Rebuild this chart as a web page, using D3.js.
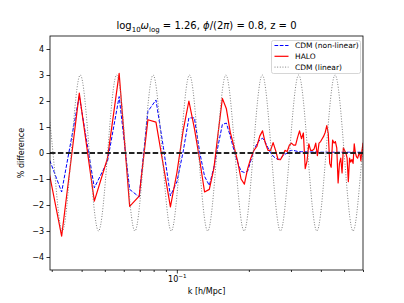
<!DOCTYPE html>
<html>
<head>
<meta charset="utf-8">
<script src="https://cdn.jsdelivr.net/npm/d3@7"></script>
<style>
  body { margin: 0; background: #fff; }
  svg { font-family: "DejaVu Sans", sans-serif; }
</style>
</head>
<body>
<div id="chart"></div>
<script>
// k values [h/Mpc] of the simulated spectra
const kGrid = [
  0.0269, 0.0330, 0.0391, 0.0452, 0.0513, 0.0574, 0.0635, 0.0696, 0.0757, 0.0818,
  0.0879, 0.0940, 0.1001, 0.1062, 0.1123, 0.1184, 0.1245, 0.1306, 0.1367, 0.1428,
  0.1489, 0.1550, 0.1611, 0.1672, 0.1733, 0.1794, 0.1855, 0.1916, 0.1977, 0.2038,
  0.2099, 0.2160, 0.2221, 0.2282, 0.2343, 0.2404, 0.2465, 0.2526, 0.2587, 0.2648,
  0.2709, 0.2770, 0.2831, 0.2892, 0.2953, 0.3014, 0.3075, 0.3136, 0.3197, 0.3258,
  0.3319, 0.3380, 0.3441, 0.3502, 0.3563, 0.3624, 0.3685, 0.3746, 0.3807, 0.3868,
  0.3929, 0.3990, 0.4051, 0.4112, 0.4173, 0.4234, 0.4295, 0.4356, 0.4417, 0.4478,
  0.4539, 0.4600, 0.4661, 0.4722, 0.4783, 0.4844, 0.4905, 0.4966, 0.5027, 0.5088,
  0.5149, 0.5210, 0.5271, 0.5332, 0.5393, 0.5454, 0.5515, 0.5576, 0.5637, 0.5698,
  0.5759, 0.5820, 0.5881, 0.5942, 0.6003, 0.6064, 0.6125
];

// % difference, CDM non-linear
const cdmNonlinear = [
  0.67, -1.5, 2.2, -1.34, -0.32, 2.17, -1.4, -1.69, 1.6, 2.04,
  0.2, -1.65, -1.1, 0.04, 1.35, 1.35, 0.05, -0.9, -1.25, -0.55,
  0.3, 1.1, 1.15, 0.65, 0.1, -0.35, -0.7, -0.75, -0.7, -0.3,
  0.1, 0.35, 0.5, 0.57, 0.42, 0.2, 0.0, -0.12, -0.2, -0.25,
  -0.22, -0.12, -0.05, 0.0, 0.08, 0.1, 0.1, 0.08, 0.06, 0.05,
  0.05, 0.05, 0.05, 0.04, 0.04, 0.04, 0.04, 0.04, 0.04, 0.04,
  0.03, 0.03, 0.03, 0.03, 0.03, 0.03, 0.03, 0.03, 0.03, 0.03,
  0.03, 0.03, 0.03, 0.03, 0.03, 0.03, 0.03, 0.03, 0.03, 0.03,
  0.03, 0.03, 0.03, 0.03, 0.03, 0.03, 0.03, 0.03, 0.03, 0.03,
  0.03, 0.03, 0.03, 0.03, 0.03, 0.03, 0.03
];

// % difference, HALO
const halo = [
  0.95, -3.2, 2.3, -1.85, -0.2, 3.06, -2.05, -1.66, 1.28, 1.19,
  -0.5, -2.07, -0.75, 0.85, 2.0, 0.95, -0.25, -1.5, -1.4, -0.6,
  0.8, 2.1, 1.7, 0.8, 0.25, -0.3, -1.0, -1.2, -0.6, -0.2,
  0.1, 0.25, 0.65, 0.85, 0.38, 0.1, 0.1, 0.4, 0.1, -0.25,
  -0.26, -0.1, 0.1, 0.06, 0.3, 0.38, 0.3, 0.3, 0.6, 0.85,
  0.55, 0.77, -0.6, -0.3, 0.35, 0.1, 0.1, 0.15, 0.38, -0.1,
  0.38, 0.44, 0.55, 0.65, 0.8, 1.05, 0.75, -0.4, -0.55, 0.5,
  0.38, 0.44, 0.2, -1.15, -0.4, -0.2, -0.77, 0.2, 0.1, 0.0,
  -0.2, -1.1, -0.2, -0.35, -0.25, -0.4, 0.35, 0.0, -0.15, -0.2,
  -0.05, 0.0, -0.3, 0.1, 0.38, -1.1, -0.3
];

// CDM linear: peaks, troughs and zero crossings
const kLinear = [
  0.02782, 0.03037, 0.03315, 0.03618, 0.03949, 0.04310, 0.04705, 0.05136, 0.05606, 0.06119,
  0.06679, 0.07290, 0.07957, 0.08685, 0.09480, 0.10348, 0.11295, 0.12329, 0.13457, 0.14689,
  0.16033, 0.17500, 0.19102, 0.20850, 0.22758, 0.24841, 0.27115, 0.29596, 0.32304, 0.35261,
  0.38488, 0.42010, 0.45855, 0.50051, 0.54632, 0.59632, 0.65089
];
const cdmLinear = [
  3, 0, -3, 0, 3, 0, -3, 0, 3, 0,
  -3, 0, 3, 0, -3, 0, 3, 0, -3, 0,
  3, 0, -3, 0, 3, 0, -3, 0, 3, 0,
  -3, 0, 3, 0, -3, 0, 3
];

const yTicks = [-4, -3, -2, -1, 0, 1, 2, 3, 4];
const xMajorTicks = [0.1];
const xMinorTicks = [0.03, 0.04, 0.05, 0.06, 0.07, 0.08, 0.09, 0.2, 0.3, 0.4, 0.5, 0.6];

const width = 404, height = 303;
const plot = { left: 50, right: 363, top: 36, bottom: 270 };

const svg = d3.select('#chart').append('svg')
  .attr('width', width).attr('height', height);

const x = d3.scaleLog().domain([0.0295, 0.6]).range([plot.left, plot.right]);
const y = d3.scaleLinear().domain([-4.5, 4.5]).range([plot.bottom, plot.top]);

svg.append('clipPath').attr('id', 'clip')
  .append('rect')
  .attr('x', plot.left).attr('y', plot.top)
  .attr('width', plot.right - plot.left).attr('height', plot.bottom - plot.top);

const g = svg.append('g').attr('clip-path', 'url(#clip)');

const line = d3.line().x(d => x(d[0])).y(d => y(d[1]));

g.append('path')
  .datum(kGrid.map((k, i) => [k, cdmNonlinear[i]]))
  .attr('d', line)
  .attr('fill', 'none').attr('stroke', '#0000ff').attr('stroke-width', 1)
  .attr('stroke-dasharray', '3.7,1.6');

g.append('path')
  .datum(kGrid.map((k, i) => [k, halo[i]]))
  .attr('d', line)
  .attr('fill', 'none').attr('stroke', '#ff0000').attr('stroke-width', 1.2)
  .attr('stroke-linejoin', 'round');

g.append('path')
  .datum(kLinear.map((k, i) => [k, cdmLinear[i]]))
  .attr('d', line.curve(d3.curveNatural))
  .attr('fill', 'none').attr('stroke', '#808080').attr('stroke-width', 1)
  .attr('stroke-dasharray', '1,1.65');

// zero line
g.append('line')
  .attr('x1', plot.left).attr('x2', plot.right)
  .attr('y1', y(0)).attr('y2', y(0))
  .attr('stroke', '#222').attr('stroke-width', 1.8)
  .attr('stroke-dasharray', '5.5,2.4');

// axes
svg.append('g')
  .attr('transform', `translate(${plot.left},0)`)
  .call(d3.axisLeft(y).tickValues(yTicks).tickSize(3.5).tickPadding(2.5)
    .tickFormat(d => d < 0 ? '\u2212' + Math.abs(d) : d));

svg.append('g')
  .attr('transform', `translate(0,${plot.bottom})`)
  .call(d3.axisBottom(x).tickValues(xMinorTicks).tickSize(2).tickFormat(''));

const xAxis = svg.append('g')
  .attr('transform', `translate(0,${plot.bottom})`)
  .call(d3.axisBottom(x).tickValues(xMajorTicks).tickSize(3.5).tickPadding(2.5).tickFormat(''));

xAxis.selectAll('.tick text').each(function () {
  const t = d3.select(this);
  t.append('tspan').text('10');
  t.append('tspan').attr('dy', -3.5).attr('font-size', 5.6).text('\u22121');
});

svg.selectAll('.domain').remove();
svg.selectAll('.tick text').attr('font-size', 8).attr('fill', '#000')
  .attr('font-family', '"DejaVu Sans", sans-serif');
svg.selectAll('.tick line').attr('stroke', '#000').attr('stroke-width', 0.8);

svg.append('rect')
  .attr('x', plot.left).attr('y', plot.top)
  .attr('width', plot.right - plot.left).attr('height', plot.bottom - plot.top)
  .attr('fill', 'none').attr('stroke', '#000').attr('stroke-width', 0.8);

// labels
svg.append('text')
  .attr('x', (plot.left + plot.right) / 2).attr('y', 294)
  .attr('text-anchor', 'middle').attr('font-size', 8)
  .text('k [h/Mpc]');

svg.append('text')
  .attr('transform', `translate(24,${(plot.top + plot.bottom) / 2}) rotate(-90)`)
  .attr('text-anchor', 'middle').attr('font-size', 8)
  .text('% difference');

const title = svg.append('text')
  .attr('x', (plot.left + plot.right) / 2).attr('y', 29)
  .attr('text-anchor', 'middle').attr('font-size', 10);
title.append('tspan').text('log');
title.append('tspan').attr('dy', 2.5).attr('font-size', 7).text('10');
title.append('tspan').attr('dy', -2.5).attr('font-style', 'italic').text('\u03c9');
title.append('tspan').attr('dy', 2.5).attr('font-size', 7).text('log');
title.append('tspan').attr('dy', -2.5).text(' = 1.26, ');
title.append('tspan').attr('font-style', 'italic').text('\u03d5');
title.append('tspan').text('/(2');
title.append('tspan').attr('font-style', 'italic').text('\u03c0');
title.append('tspan').text(') = 0.8, z = 0');

// legend
const legendItems = [
  { label: 'CDM (non-linear)', color: '#0000ff', dash: '3.7,1.6', width: 1 },
  { label: 'HALO', color: '#ff0000', dash: null, width: 1.2 },
  { label: 'CDM (linear)', color: '#808080', dash: '1,1.65', width: 1 }
];
const legend = svg.append('g').attr('transform', 'translate(271.5,40.5)');
legend.append('rect')
  .attr('width', 89).attr('height', 33).attr('rx', 2)
  .attr('fill', '#fff').attr('fill-opacity', 0.8)
  .attr('stroke', '#ccc').attr('stroke-width', 0.8);
legend.selectAll('g.item')
  .data(legendItems)
  .join('g')
  .classed('item', true)
  .attr('transform', (d, i) => `translate(0,${5 + i * 10.8})`)
  .each(function (d) {
    const it = d3.select(this);
    it.append('line')
      .attr('x1', 3).attr('x2', 17)
      .attr('stroke', d.color).attr('stroke-width', d.width)
      .attr('stroke-dasharray', d.dash);
    it.append('text')
      .attr('x', 23.5).attr('dy', '0.35em')
      .attr('font-size', 7.5).text(d.label);
  });
</script>
</body>
</html>
